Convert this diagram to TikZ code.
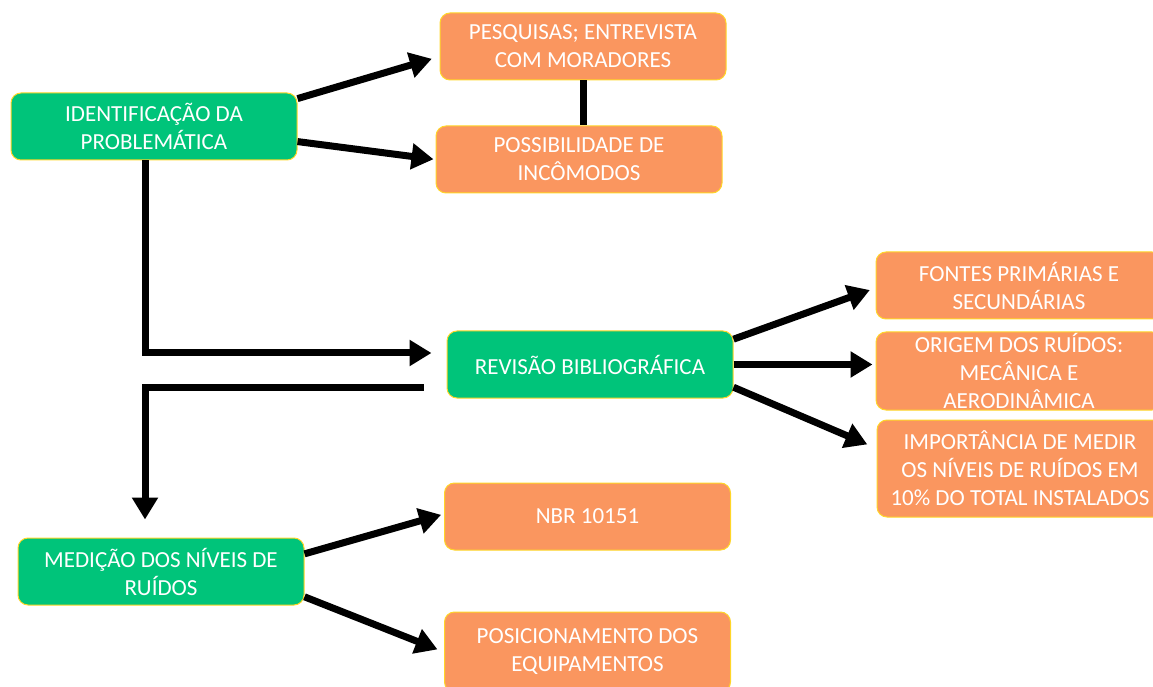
\documentclass[tikz,border=0pt]{standalone}
\usepackage{fontspec}
\setmainfont{Carlito}
\usepackage{tikz}
\usetikzlibrary{arrows.meta}

\definecolor{verde}{RGB}{0,196,122}
\definecolor{laranja}{RGB}{250,150,95}
\definecolor{borda}{RGB}{255,214,40}

\begin{document}
\begin{tikzpicture}[x=1pt,y=1pt,
    caixa/.style={draw=borda,line width=1pt,rounded corners=10pt,text=white,
      align=center,minimum width=286pt,minimum height=67pt,inner sep=0pt,
      font=\fontsize{23}{28}\selectfont},
    etapa/.style={caixa,fill=verde},
    item/.style={caixa,fill=laranja},
    seta/.style={line width=7pt,-{Triangle[length=22pt,width=25pt]}}]
          %\draw[very thin,lightgray] (0,0) grid[step=50] (1153,686);
          \useasboundingbox (0,0) rectangle (1153,686);
          \node[etapa] (ident) at (154,559.5) {IDENTIFICAÇÃO DA\\PROBLEMÁTICA};
          \node[item] (pesq) at (583,639.5) {PESQUISAS; ENTREVISTA\\COM MORADORES};
          \node[item] (poss) at (579,526.5) {POSSIBILIDADE DE\\INCÔMODOS};
          \node[etapa] (rev) at (590,321.5) {REVISÃO BIBLIOGRÁFICA};
          \node[item] (fontes) at (1019,400.5) {FONTES PRIMÁRIAS E\\SECUNDÁRIAS};
          \node[item,minimum height=78pt] (origem) at (1019,315) {ORIGEM DOS RUÍDOS:\\MECÂNICA E\\AERODINÂMICA};
          \node[item,minimum height=97pt] (import) at (1020,217.5) {IMPORTÂNCIA DE MEDIR\\OS NÍVEIS DE RUÍDOS EM\\10\% DO TOTAL INSTALADOS};
          \node[etapa] (med) at (161,114.5) {MEDIÇÃO DOS NÍVEIS DE\\RUÍDOS};
          \node[item] (nbr) at (587.5,169.5) {NBR 10151};
          \node[item,minimum height=80pt] (posic) at (587.5,34) {POSICIONAMENTO DOS\\EQUIPAMENTOS};

          \draw[seta,shorten >=8pt] (ident.11) -- (pesq.184);
          \draw[seta,shorten >=2pt] (ident.-6) -- (poss.180);
          \draw[line width=7pt] (pesq.south) -- (pesq.south |- poss.north);
          \draw[seta,shorten >=15pt] ([xshift=-9pt]ident.south) |- ([yshift=11.5pt]rev.west);
          \draw[seta] ([xshift=-23pt,yshift=-23.5pt]rev.west) -| ([xshift=-16pt,yshift=18pt]med.north);
          \draw[seta,shorten >=6pt] (rev.10) -- (fontes.181);
          \draw[seta,shorten >=3pt] (rev.east) -- (rev.east -| origem.west);
          \draw[seta,shorten >=10pt] (rev.-9) -- (import.172);
          \draw[seta,shorten >=3pt] (med.7) -- (nbr.179);
          \draw[seta,shorten >=7pt] (med.-10) -- (posic.180);
        \end{tikzpicture}
\end{document}
